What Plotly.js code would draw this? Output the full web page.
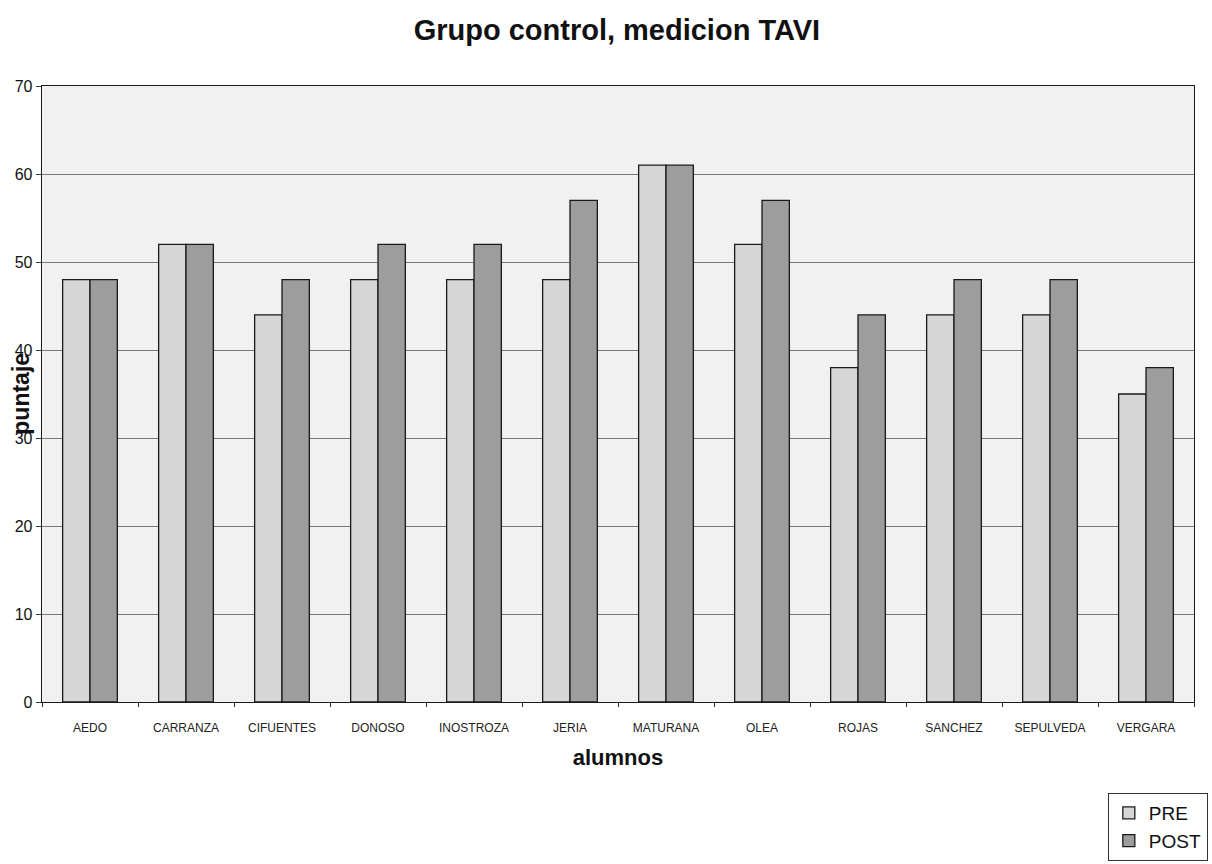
<!DOCTYPE html>
<html>
<head>
<meta charset="utf-8">
<script src="https://cdn.plot.ly/plotly-3.0.1.min.js"></script>
<style>
  html, body { margin: 0; padding: 0; background: #ffffff; }
  #chart { width: 1212px; height: 864px; }
</style>
</head>
<body>
<div id="chart"></div>
<script>
// Students of the control group
var alumnos = ["AEDO", "CARRANZA", "CIFUENTES", "DONOSO", "INOSTROZA", "JERIA",
               "MATURANA", "OLEA", "ROJAS", "SANCHEZ", "SEPULVEDA", "VERGARA"];

// TAVI scores before and after
var puntajePre  = [48, 52, 44, 48, 48, 48, 61, 52, 38, 44, 44, 35];
var puntajePost = [48, 52, 48, 52, 52, 57, 61, 57, 44, 48, 48, 38];

var yTicks = [0, 10, 20, 30, 40, 50, 60, 70];

var FONT = "Arial, 'Liberation Sans', sans-serif";

var traces = [
  {
    type: "bar",
    name: "PRE",
    x: alumnos,
    y: puntajePre,
    marker: { color: "#d6d6d6", line: { color: "#1a1a1a", width: 1.3 } },
    hoverinfo: "x+y+name"
  },
  {
    type: "bar",
    name: "POST",
    x: alumnos,
    y: puntajePost,
    marker: { color: "#9d9d9d", line: { color: "#1a1a1a", width: 1.3 } },
    hoverinfo: "x+y+name"
  }
];

var layout = {
  width: 1212,
  height: 864,
  margin: { l: 42, r: 18, t: 86, b: 162, autoexpand: false },
  paper_bgcolor: "#ffffff",
  plot_bgcolor: "#f1f1f1",
  font: { family: FONT, color: "#1a1a1a" },
  barmode: "group",
  bargap: 0.43,
  bargroupgap: 0,
  title: {
    text: "<b>Grupo control, medicion TAVI</b>",
    font: { family: FONT, size: 29, color: "#111111" },
    x: 0.509,
    xanchor: "center",
    y: 0.965,
    yanchor: "middle"
  },
  xaxis: {
    type: "category",
    automargin: false,
    tickfont: { family: FONT, size: 12, color: "#222222" },
    ticks: "outside",
    tickson: "boundaries",
    ticklen: 4,
    tickcolor: "#333333",
    ticklabelstandoff: 14,
    showline: true,
    linecolor: "#1a1a1a",
    linewidth: 1.3,
    mirror: true,
    showgrid: false,
    fixedrange: true,
    title: {
      text: "<b>alumnos</b>",
      font: { family: FONT, size: 22, color: "#111111" },
      standoff: 16
    }
  },
  yaxis: {
    range: [0, 70],
    automargin: false,
    tickvals: yTicks,
    ticktext: yTicks.map(String),
    tickfont: { family: FONT, size: 16, color: "#111111" },
    ticks: "outside",
    ticklen: 5,
    tickcolor: "#333333",
    showline: true,
    linecolor: "#1a1a1a",
    linewidth: 1.3,
    mirror: true,
    showgrid: true,
    gridcolor: "#7a7a7a",
    gridwidth: 1,
    zeroline: false,
    fixedrange: true
  },
  annotations: [
    {
      text: "<b>puntaje</b>",
      textangle: -90,
      xref: "paper",
      yref: "paper",
      x: -0.0185,
      y: 0.5,
      xanchor: "center",
      yanchor: "middle",
      showarrow: false,
      font: { family: FONT, size: 23, color: "#111111" }
    }
  ],
  showlegend: true,
  legend: {
    x: 1.012,
    y: -0.1477,
    xanchor: "right",
    yanchor: "top",
    bgcolor: "#ffffff",
    bordercolor: "#333333",
    borderwidth: 1,
    font: { family: FONT, size: 19, color: "#111111" },
    itemwidth: 30,
    tracegroupgap: 0
  }
};

Plotly.newPlot("chart", traces, layout, { displayModeBar: false, staticPlot: true });
</script>
</body>
</html>
